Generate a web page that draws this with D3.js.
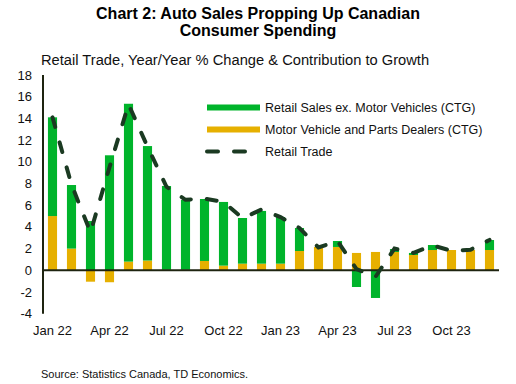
<!DOCTYPE html>
<html>
<head>
<meta charset="utf-8">
<script src="https://cdn.jsdelivr.net/npm/d3@7"></script>
<style>
  body { margin: 0; background: #fff; }
  svg { font-family: "Liberation Sans", Arial, sans-serif; }
</style>
</head>
<body>
<svg id="canvas" width="516" height="384"></svg>
<script>
// data
const months = ["Jan 22","Feb 22","Mar 22","Apr 22","May 22","Jun 22","Jul 22","Aug 22","Sep 22","Oct 22","Nov 22","Dec 22",
                "Jan 23","Feb 23","Mar 23","Apr 23","May 23","Jun 23","Jul 23","Aug 23","Sep 23","Oct 23","Nov 23","Dec 23"]
const exMotor = [9.1, 5.86, 4.54, 10.6, 14.55, 10.55, 7.72, 6.43, 5.71, 5.87, 4.21, 4.86,
                 4.3, 2.12, 0.0, 0.55, -1.54, -2.55, 0.27, 0.19, 0.46, 0.0, 0.0, 0.92]
const motor = [5.0, 2.0, -1.05, -1.1, 0.8, 0.9, 0.05, 0.05, 0.86, 0.43, 0.61, 0.61,
               0.61, 1.78, 2.15, 2.15, 1.6, 1.69, 1.69, 1.41, 1.87, 1.87, 1.87, 1.87]
const retail = [14.1, 7.9, 3.5, 9.5, 15.3, 11.4, 7.7, 6.5, 6.6, 6.3, 4.8, 5.6,
                4.9, 3.9, 2.1, 2.7, 0.1, -0.6, 2.0, 1.6, 2.3, 1.8, 1.9, 2.8]
const yTicks = [-4,-2,0,2,4,6,8,10,12,14,16,18]
const xTickLabels = ["Jan 22","Apr 22","Jul 22","Oct 22","Jan 23","Apr 23","Jul 23","Oct 23"]

const green = "#00b42b"
const gold = "#e6b000"
const lineCol = "#1b3a22"
const axisCol = "#1e2410"

const svg = d3.select('#canvas')

const x = d3.scaleBand().domain(months).range([43, 499]).paddingInner(0.52).paddingOuter(0.26)
const y = d3.scaleLinear().domain([-4, 18]).range([313.7, 75])

// stack positives up from 0 and negatives down from 0
const rows = months.map((m, i) => ({ m, vals: [["ex", exMotor[i]], ["mv", motor[i]]] }))
const segs = []
rows.forEach(r => {
  let pos = 0, neg = 0
  // motor vehicles sit at the bottom
  ;[r.vals[1], r.vals[0]].forEach(([k, v]) => {
    if (v >= 0) { segs.push({ m: r.m, k, y0: pos, y1: pos + v }); pos += v }
    else { segs.push({ m: r.m, k, y0: neg + v, y1: neg }); neg += v }
  })
})

svg.append('g')
  .selectAll('rect')
  .data(segs)
  .enter()
  .append('rect')
  .attr('x', d => x(d.m))
  .attr('width', x.bandwidth())
  .attr('y', d => y(d.y1))
  .attr('height', d => y(d.y0) - y(d.y1))
  .attr('fill', d => d.k == "ex" ? green : gold)

// axes
svg.append('line')
  .attr('x1', 43).attr('x2', 43)
  .attr('y1', y(18)).attr('y2', y(-4))
  .attr('stroke', axisCol).attr('stroke-width', 2)
svg.append('line')
  .attr('x1', 43).attr('x2', 499)
  .attr('y1', y(0)).attr('y2', y(0))
  .attr('stroke', axisCol).attr('stroke-width', 2)

svg.append('g')
  .selectAll('text')
  .data(yTicks)
  .enter()
  .append('text')
  .attr('x', 32)
  .attr('y', d => y(d) + 4.5)
  .attr('text-anchor', 'end')
  .attr('font-size', 13)
  .attr('fill', '#111')
  .text(d => d)

svg.append('g')
  .selectAll('text')
  .data(xTickLabels)
  .enter()
  .append('text')
  .attr('x', d => x(d) + x.bandwidth() / 2)
  .attr('y', 335)
  .attr('text-anchor', 'middle')
  .attr('font-size', 13)
  .attr('fill', '#111')
  .text(d => d)

// retail trade line
const line = d3.line()
  .x((d, i) => x(months[i]) + x.bandwidth() / 2)
  .y(d => y(d))
svg.append('path')
  .attr('d', line(retail))
  .attr('fill', 'none')
  .attr('stroke', lineCol)
  .attr('stroke-width', 4)
  .attr('stroke-linecap', 'round')
  .attr('stroke-dasharray', '10,16')

// legend
const legend = [
  { name: "Retail Sales ex. Motor Vehicles (CTG)", type: "bar", color: green },
  { name: "Motor Vehicle and Parts Dealers (CTG)", type: "bar", color: gold },
  { name: "Retail Trade", type: "line", color: lineCol }
]
const lg = svg.append('g')
legend.forEach((l, i) => {
  const cy = 107.5 + i * 22
  if (l.type == "bar") {
    lg.append('rect').attr('x', 207).attr('y', cy - 3).attr('width', 53).attr('height', 6).attr('fill', l.color)
  } else {
    lg.append('line').attr('x1', 207).attr('x2', 260).attr('y1', cy).attr('y2', cy)
      .attr('stroke', l.color).attr('stroke-width', 4).attr('stroke-linecap', 'round')
      .attr('stroke-dasharray', '11,16')
  }
  lg.append('text').attr('x', 265).attr('y', cy + 4.5).attr('font-size', 12.5).attr('fill', '#111').text(l.name)
})

// titles
svg.append('text').attr('x', 258).attr('y', 18.5).attr('text-anchor', 'middle')
  .attr('font-size', 16).attr('font-weight', 'bold').attr('fill', '#000')
  .text("Chart 2: Auto Sales Propping Up Canadian")
svg.append('text').attr('x', 258).attr('y', 36).attr('text-anchor', 'middle')
  .attr('font-size', 16).attr('font-weight', 'bold').attr('fill', '#000')
  .text("Consumer Spending")
svg.append('text').attr('x', 41).attr('y', 65)
  .attr('font-size', 14.7).attr('fill', '#111')
  .text("Retail Trade, Year/Year % Change & Contribution to Growth")
svg.append('text').attr('x', 41).attr('y', 378)
  .attr('font-size', 11).attr('fill', '#111')
  .text("Source: Statistics Canada, TD Economics.")
</script>
</body>
</html>
